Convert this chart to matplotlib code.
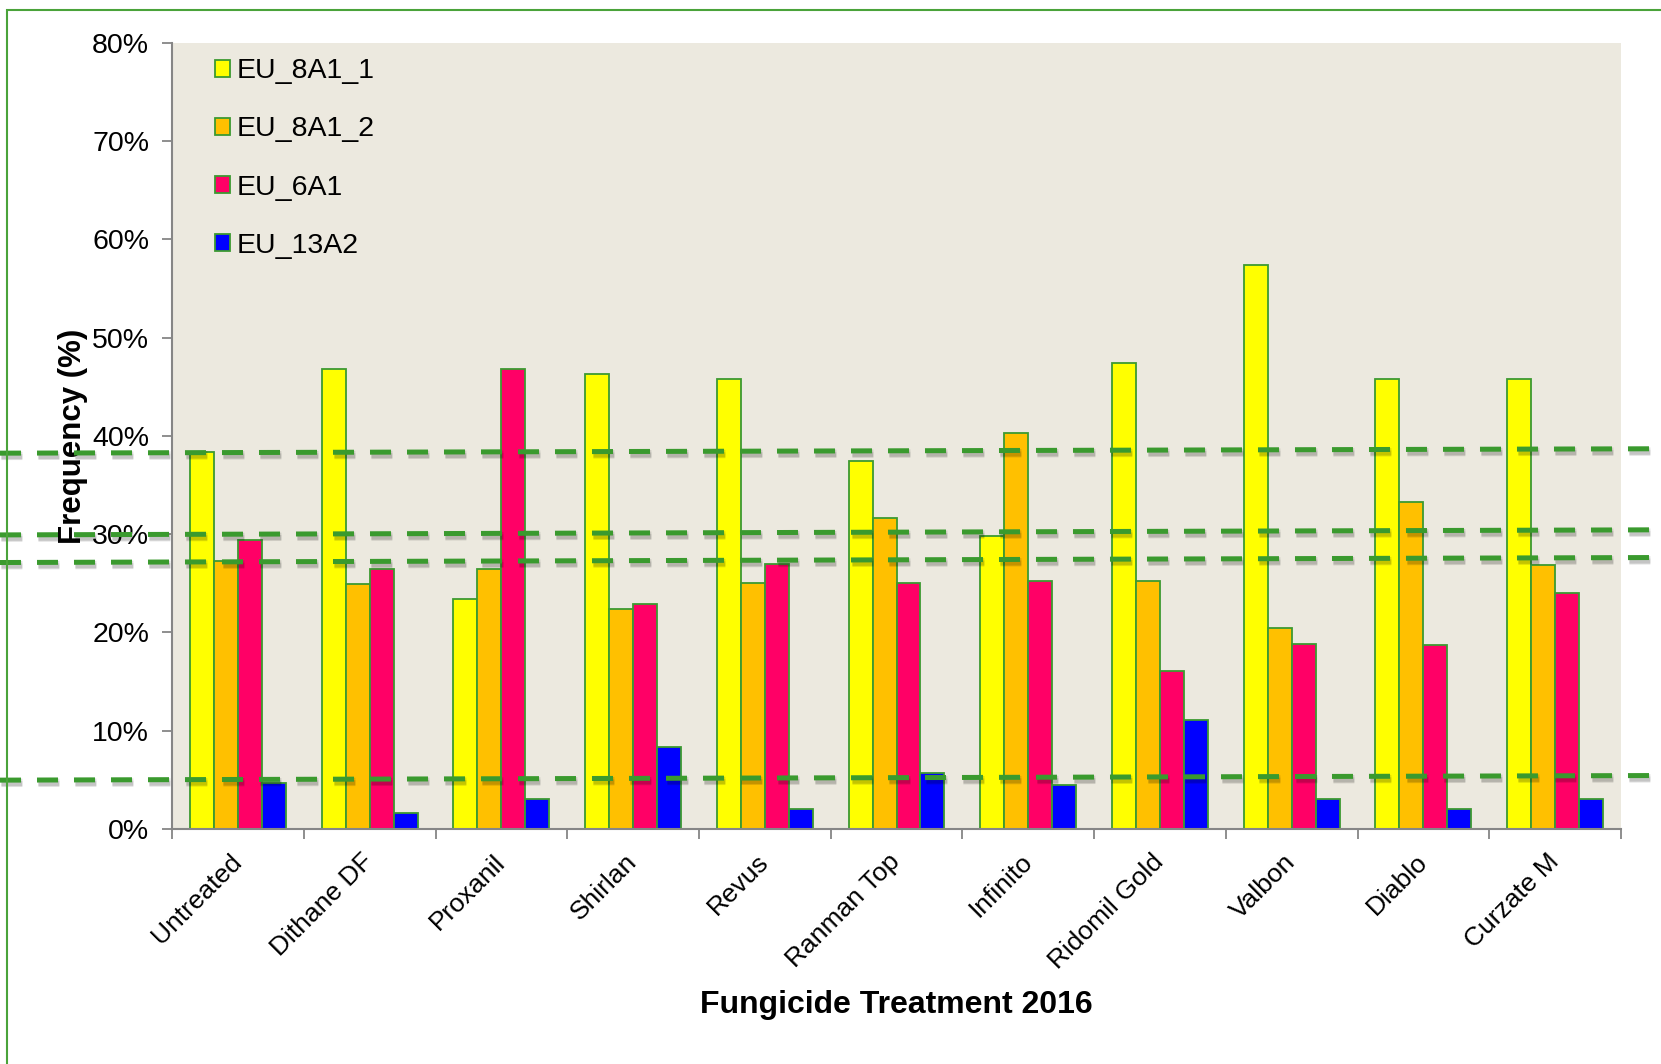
import matplotlib
matplotlib.use('Agg')
import matplotlib.pyplot as plt
import matplotlib.patches as mpatches
import matplotlib.patheffects as pe
from matplotlib.transforms import blended_transform_factory
from matplotlib.ticker import FixedLocator, FuncFormatter
import numpy as np

plt.rcParams['font.family'] = ['Liberation Sans', 'DejaVu Sans']

treatments = ['Untreated', 'Dithane DF', 'Proxanil', 'Shirlan', 'Revus',
              'Ranman Top', 'Infinito', 'Ridomil Gold', 'Valbon', 'Diablo',
              'Curzate M']
series_names = ['EU_8A1_1', 'EU_8A1_2', 'EU_6A1', 'EU_13A2']

eu_8a1_1 = [38.4, 46.8, 23.4, 46.3, 45.8, 37.5, 29.8, 47.4, 57.4, 45.8, 45.8]
eu_8a1_2 = [27.3, 24.9, 26.5, 22.4, 25.0, 31.7, 40.3, 25.2, 20.5, 33.3, 26.9]
eu_6a1 = [29.4, 26.5, 46.8, 22.9, 27.0, 25.0, 25.2, 16.1, 18.8, 18.7, 24.0]
eu_13a2 = [4.7, 1.6, 3.0, 8.3, 2.0, 5.7, 4.5, 11.1, 3.1, 2.0, 3.1]

# hand-drawn dashed reference lines (percent at left / right figure edge)
ref_left = [38.25, 29.93, 27.12, 4.97]
ref_right = [38.7, 30.45, 27.63, 5.44]

colors = ['#FFFF00', '#FFC000', '#FF0066', '#0000FF']
edge = '#3c9a31'
green = '#3a9a2e'

fig = plt.figure(figsize=(16.61, 10.64), dpi=100)
ax = fig.add_axes([0.1036, 0.2209, 0.8723, 0.7387])
ax.set_facecolor('#ECE9DF')

x = np.arange(len(treatments))
w = 0.182
all_series = [eu_8a1_1, eu_8a1_2, eu_6a1, eu_13a2]
for k, (vals, name) in enumerate(zip(all_series, series_names)):
    ax.bar(x + (k - 1.5) * w, vals, w, color=colors[k], edgecolor=edge,
           linewidth=1.3, label=name, zorder=2)

ax.set_xlim(-0.5, len(treatments) - 0.5)
ax.set_ylim(0, 80)
ax.set_yticks(np.arange(0, 81, 10))
ax.yaxis.set_major_formatter(FuncFormatter(lambda v, p: f'{v:.0f}%'))

ax.xaxis.set_major_locator(FixedLocator(np.arange(-0.5, len(treatments), 1)))
ax.xaxis.set_minor_locator(FixedLocator(x))
ax.set_xticklabels([])
ax.set_xticklabels(treatments, minor=True, rotation=45, ha='right',
                   va='center', rotation_mode='anchor')
ax.tick_params(axis='x', which='minor', length=0, pad=21, labelsize=19)
ax.tick_params(axis='x', which='major', length=7, width=1.3, color='#868686')
ax.tick_params(axis='y', length=7, width=1.3, color='#868686', pad=9.5,
               labelsize=20.5)

for s in ['top', 'right']:
    ax.spines[s].set_visible(False)
for s in ['left', 'bottom']:
    ax.spines[s].set_color('#868686')
    ax.spines[s].set_linewidth(1.5)

ax.set_xlabel('Fungicide Treatment 2016', fontsize=23, fontweight='bold',
              va='center')
ax.xaxis.set_label_coords(0.5, -0.2245)
ax.set_ylabel('Frequency (%)', fontsize=22.5, fontweight='bold')
ax.yaxis.set_label_coords(-0.058, 0.5)

ax.legend(loc='upper left', bbox_to_anchor=(0.022, 0.995), frameon=False,
          fontsize=20.5, handlelength=0.53, handleheight=0.53,
          handletextpad=0.2, labelspacing=1.13, borderaxespad=0)

# dashed reference lines spanning the whole figure
tr = blended_transform_factory(fig.transFigure, ax.transData)
for yl, yr in zip(ref_left, ref_right):
    ax.plot([0, 1], [yl, yr], transform=tr, clip_on=False, color=green,
            linewidth=3.6, dashes=(4.2, 3.2), zorder=10,
            path_effects=[pe.SimpleLineShadow(offset=(1, -2), shadow_color='k',
                                              alpha=0.12, linewidth=6),
                          pe.SimpleLineShadow(offset=(1, -2.5), shadow_color='k',
                                              alpha=0.12),
                          pe.Normal()])

# green outer frame
fig.patches.append(mpatches.Rectangle((0.0042, -0.1), 1.2, 1.0906,
                                      transform=fig.transFigure, fill=False,
                                      edgecolor='#4aa33a', linewidth=1.5))

fig.savefig('out.png', dpi=100)
